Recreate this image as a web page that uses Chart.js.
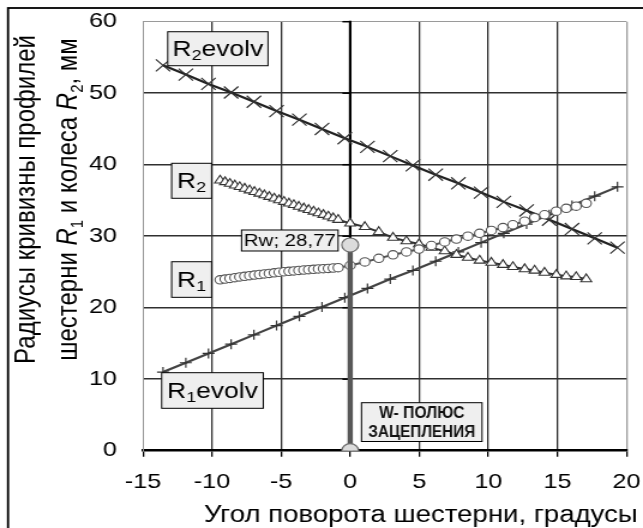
<!DOCTYPE html>
<html>
<head>
<meta charset="utf-8">
<script src="https://cdn.jsdelivr.net/npm/chart.js@4/dist/chart.umd.min.js"></script>
<style>
  html, body { margin: 0; padding: 0; background: #fff; }
  canvas { display: block; }
</style>
</head>
<body>
<canvas id="c" width="536" height="528" style="width:643px;height:528px"></canvas>
<script>
// Rotation angle of the pinion, degrees (involute curves)
const evolvAngles = [-13.55, -11.90, -10.26, -8.62, -6.97, -5.33, -3.68, -2.04, -0.39, 1.25, 2.90,
                     4.54, 6.19, 7.83, 9.48, 11.12, 12.77, 14.41, 16.06, 17.70, 19.35];
// Radii of curvature of the involutes, mm
const r1Evolv = [11.0, 12.3, 13.6, 14.9, 16.2, 17.5, 18.8, 20.1, 21.4, 22.7, 24.0,
                 25.2, 26.5, 27.8, 29.1, 30.4, 31.7, 33.0, 34.3, 35.6, 36.9];
const r2Evolv = [53.9, 52.6, 51.3, 50.1, 48.8, 47.5, 46.3, 45.0, 43.7, 42.5, 41.2,
                 39.9, 38.6, 37.4, 36.1, 34.8, 33.6, 32.3, 31.0, 29.7, 28.4];

// Rotation angle of the pinion, degrees (actual tooth profiles)
const profileAngles = [-9.42, -9.06, -8.71, -8.35, -8.00, -7.64, -7.28, -6.93, -6.57, -6.21,
                       -5.86, -5.50, -5.15, -4.79, -4.43, -4.08, -3.72, -3.36, -3.01, -2.65,
                       -2.30, -1.94, -1.58, -1.23, -0.87, 0.00, 1.06, 2.07, 3.10, 4.07,
                       4.98, 5.88, 6.84, 7.69, 8.52, 9.37, 10.22, 11.06, 11.78, 12.63,
                       13.35, 14.07, 14.92, 15.64, 16.36, 17.09];
// Radius of curvature of the pinion profile R1, mm
const r1Profile = [23.90, 24.00, 24.10, 24.20, 24.30, 24.39, 24.48, 24.56, 24.64, 24.72,
                   24.80, 24.88, 24.96, 25.03, 25.09, 25.15, 25.21, 25.27, 25.32, 25.37,
                   25.42, 25.46, 25.50, 25.55, 25.60, 25.90, 26.40, 26.90, 27.40, 27.80,
                   28.20, 28.70, 29.20, 29.60, 30.00, 30.40, 30.80, 31.20, 31.60, 32.10,
                   32.60, 33.00, 33.50, 33.90, 34.20, 34.60];
// Radius of curvature of the wheel profile R2, mm
const r2Profile = [37.80, 37.57, 37.34, 37.11, 36.89, 36.66, 36.42, 36.20, 35.97, 35.74,
                   35.51, 35.28, 35.05, 34.82, 34.59, 34.37, 34.13, 33.90, 33.68, 33.45,
                   33.22, 32.99, 32.76, 32.53, 32.30, 31.80, 31.30, 30.60, 29.80, 29.30,
                   28.90, 28.40, 27.90, 27.40, 27.00, 26.60, 26.30, 26.00, 25.70, 25.40,
                   25.20, 24.90, 24.60, 24.40, 24.30, 24.00];

// Pitch point W
const poleAngles = [0, 0];
const poleRadii = [0, 28.77];

// Axis ticks
const xTickValues = [-15, -10, -5, 0, 5, 10, 15, 20];
const yTickValues = [0, 10, 20, 30, 40, 50, 60];

const FONT = "'Liberation Sans', Arial, Helvetica, sans-serif";
const zip = (xs, ys) => xs.map((x, i) => ({ x: x, y: ys[i] }));

// Frame around the whole figure
const framePlugin = {
  id: 'frame',
  beforeDraw(chart) {
    const ctx = chart.ctx;
    ctx.save();
    ctx.fillStyle = '#fff';
    ctx.fillRect(0, 0, chart.width, chart.height);
    ctx.strokeStyle = '#000';
    ctx.lineWidth = 1.8;
    ctx.strokeRect(6.7, 8, chart.width + 20, chart.height + 20);
    ctx.restore();
  }
};

// Value axis drawn through angle 0 with its tick marks
const zeroAxisPlugin = {
  id: 'zeroAxis',
  beforeDatasetsDraw(chart) {
    const { ctx, scales: { x, y } } = chart;
    const px = x.getPixelForValue(0);
    ctx.save();
    ctx.strokeStyle = '#000';
    ctx.lineWidth = 2.2;
    ctx.beginPath();
    ctx.moveTo(px, y.getPixelForValue(60) - 1);
    ctx.lineTo(px, y.getPixelForValue(0));
    ctx.stroke();
    ctx.lineWidth = 1.5;
    yTickValues.forEach(v => {
      if (v === 0) return;
      const py = y.getPixelForValue(v);
      ctx.beginPath();
      ctx.moveTo(px - 6.5, py);
      ctx.lineTo(px, py);
      ctx.stroke();
    });
    ctx.restore();
  }
};

function drawParts(ctx, parts, x, y) {
  let cx = x;
  parts.forEach(p => {
    ctx.font = p.font;
    ctx.fillText(p.t, cx, y + (p.dy || 0));
    cx += ctx.measureText(p.t).width;
  });
}
function partsWidth(ctx, parts) {
  let w = 0;
  parts.forEach(p => { ctx.font = p.font; w += ctx.measureText(p.t).width; });
  return w;
}

// Series name boxes and point labels
const labelPlugin = {
  id: 'seriesLabels',
  afterDatasetsDraw(chart) {
    const { ctx, scales: { x, y } } = chart;
    const big = '22px ' + FONT;
    const sub = '15px ' + FONT;
    const boxes = [
      { ax: -9.58, ay: 56.22, w: 83.6, h: 34, parts: [{ t: 'R', font: big }, { t: '2', font: sub, dy: 6 }, { t: 'evolv', font: big }] },
      { ax: -11.48, ay: 37.75, w: 33.3, h: 35, parts: [{ t: 'R', font: big }, { t: '2', font: sub, dy: 6 }] },
      { ax: -11.48, ay: 23.94, w: 33.3, h: 35.6, parts: [{ t: 'R', font: big }, { t: '1', font: sub, dy: 6 }] },
      { ax: -9.97, ay: 8.42, w: 84.7, h: 35.6, parts: [{ t: 'R', font: big }, { t: '1', font: sub, dy: 6 }, { t: 'evolv', font: big }] },
      { ax: -4.37, ay: 29.4, w: 80.5, h: 21, parts: [{ t: 'Rw; ' + String(poleRadii[1]).replace('.', ','), font: '17px ' + FONT }] }
    ];
    ctx.save();
    ctx.textBaseline = 'middle';
    ctx.textAlign = 'left';
    boxes.forEach(b => {
      const cx = x.getPixelForValue(b.ax);
      const cy = y.getPixelForValue(b.ay);
      const left = cx - b.w / 2, top = cy - b.h / 2;
      ctx.fillStyle = '#efefef';
      ctx.fillRect(left, top, b.w, b.h);
      ctx.strokeStyle = '#000';
      ctx.lineWidth = 1;
      ctx.strokeRect(left, top, b.w, b.h);
      ctx.fillStyle = '#000';
      const tw = partsWidth(ctx, b.parts);
      drawParts(ctx, b.parts, cx - tw / 2, cy + 1);
    });

    // Pitch point caption
    const wx = x.getPixelForValue(5.18), wy = y.getPixelForValue(4.0);
    const ww = 100.5, wh = 38.8;
    ctx.fillStyle = '#efefef';
    ctx.fillRect(wx - ww / 2, wy - wh / 2, ww, wh);
    ctx.strokeStyle = '#000';
    ctx.strokeRect(wx - ww / 2, wy - wh / 2, ww, wh);
    ctx.fillStyle = '#111';
    ctx.textAlign = 'center';
    ctx.font = 'bold 16px ' + FONT;
    const lines = ['W- ПОЛЮС', 'ЗАЦЕПЛЕНИЯ'];
    lines.forEach((t, i) => {
      const m = ctx.measureText(t).width;
      const k = Math.min(1, (i === 0 ? 71 : 89) / m);
      ctx.save();
      ctx.translate(wx, wy - 8.5 + i * 18.5);
      ctx.scale(k, 1);
      ctx.fillText(t, 0, 0);
      ctx.restore();
    });
    ctx.restore();
  }
};

// Axis titles (the value title uses italic symbols with subscripts)
const titlePlugin = {
  id: 'axisTitles',
  afterDraw(chart) {
    const ctx = chart.ctx;
    ctx.save();
    ctx.fillStyle = '#000';
    ctx.textBaseline = 'alphabetic';
    ctx.textAlign = 'center';
    ctx.font = '23px ' + FONT;
    ctx.fillText('Угол поворота шестерни, градусы', 350.8, 521.5);

    const f = '24px ' + FONT, fi = 'italic 24px ' + FONT, fs = '15px ' + FONT;
    const line1 = [{ t: 'Радиусы кривизны профилей', font: f }];
    const line2 = [
      { t: 'шестерни ', font: f }, { t: 'R', font: fi }, { t: '1', font: fs, dy: 5 },
      { t: ' и колеса ', font: f }, { t: 'R', font: fi }, { t: '2', font: fs, dy: 5 },
      { t: ', мм', font: f }
    ];
    ctx.textAlign = 'left';
    [[line1, 29], [line2, 64]].forEach(([parts, bx]) => {
      ctx.save();
      ctx.translate(bx, 199.5);
      ctx.rotate(-Math.PI / 2);
      const w = partsWidth(ctx, parts);
      drawParts(ctx, parts, -w / 2, 0);
      ctx.restore();
    });
    ctx.restore();
  }
};

const gridX = c => {
  const v = c.tick && c.tick.value;
  if (v === -15) return 'rgba(0,0,0,0)';
  if (v === 20) return '#9a9a9a';
  return '#303030';
};
const gridY = c => {
  const v = c.tick && c.tick.value;
  if (v === 0) return 'rgba(0,0,0,0)';
  if (v === 60) return '#9a9a9a';
  return '#303030';
};

new Chart(document.getElementById('c'), {
  type: 'scatter',
  data: {
    datasets: [
      {
        label: 'W', data: zip(poleAngles, poleRadii), showLine: true,
        borderColor: '#585858', borderWidth: 4.4,
        pointStyle: 'circle', pointRadius: 7,
        pointBackgroundColor: '#dcdcdc', pointBorderColor: '#6e6e6e', pointBorderWidth: 1.2
      },
      {
        label: 'R1', data: zip(profileAngles, r1Profile), showLine: true,
        borderColor: '#555', borderWidth: 2,
        pointStyle: 'circle', pointRadius: 4.2,
        pointBackgroundColor: '#fff', pointBorderColor: '#555', pointBorderWidth: 1.1
      },
      {
        label: 'R2', data: zip(profileAngles, r2Profile), showLine: true,
        borderColor: '#333', borderWidth: 2,
        pointStyle: 'triangle', pointRadius: 5.2,
        pointBackgroundColor: '#fff', pointBorderColor: '#333', pointBorderWidth: 1.1
      },
      {
        label: 'R1evolv', data: zip(evolvAngles, r1Evolv), showLine: true,
        borderColor: '#444', borderWidth: 2.2,
        pointStyle: 'cross', pointRadius: 5,
        pointBorderColor: '#333', pointBorderWidth: 1.2
      },
      {
        label: 'R2evolv', data: zip(evolvAngles, r2Evolv), showLine: true,
        borderColor: '#222', borderWidth: 2.2,
        pointStyle: 'crossRot', pointRadius: 8.5,
        pointBorderColor: '#333', pointBorderWidth: 1.2
      }
    ]
  },
  options: {
    responsive: false,
    animation: false,
    devicePixelRatio: 1,
    events: [],
    layout: { padding: { left: 0, right: 13.8, top: 21.7, bottom: 0 } },
    plugins: { legend: { display: false }, tooltip: { enabled: false } },
    scales: {
      x: {
        type: 'linear', min: -15, max: 20,
        afterBuildTicks: s => { s.ticks = xTickValues.map(v => ({ value: v })); },
        afterFit: s => { s.height = 77.3; },
        ticks: {
          font: { family: FONT, size: 21, lineHeight: 2.44 }, color: '#000', padding: 0,
          maxRotation: 0, autoSkip: false, callback: v => String(v)
        },
        grid: {
          color: gridX, lineWidth: 1.3, drawTicks: true, tickLength: 6,
          tickColor: '#000', tickWidth: 1.3
        },
        border: { display: true, color: '#000', width: 2.5 }
      },
      y: {
        type: 'linear', min: 0, max: 60,
        afterBuildTicks: s => { s.ticks = yTickValues.map(v => ({ value: v })); },
        afterFit: s => { s.width = 119.2; },
        ticks: {
          font: { family: FONT, size: 21 }, color: '#000', padding: 3,
          autoSkip: false, callback: v => String(v)
        },
        grid: {
          color: gridY, lineWidth: c => (c.tick && c.tick.value === 60 ? 1 : 1.5),
          drawTicks: true, tickLength: 18.7, tickColor: 'rgba(0,0,0,0)'
        },
        border: { display: true, color: '#9a9a9a', width: 1 }
      }
    }
  },
  plugins: [framePlugin, zeroAxisPlugin, labelPlugin, titlePlugin]
});
</script>
</body>
</html>
